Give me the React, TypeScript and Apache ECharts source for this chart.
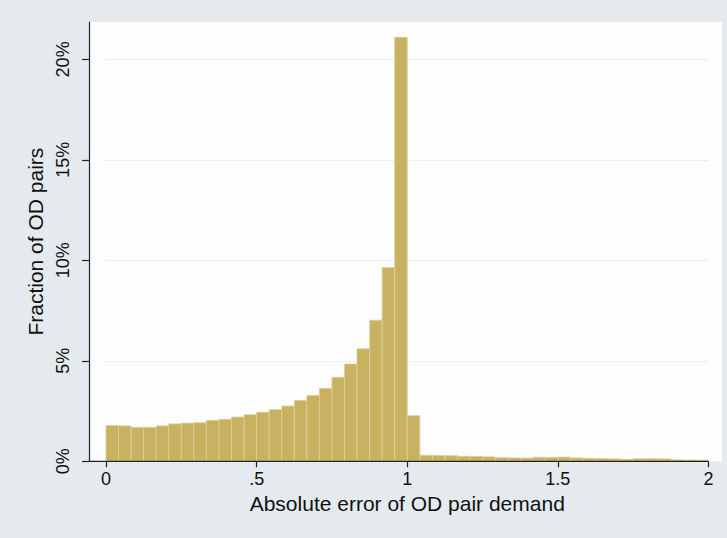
import React, { useEffect, useRef } from "react";
import * as echarts from "echarts";

// Histogram bins: width 1/24 on [0, 2]
const binWidth = 1 / 24;
const fractions = [
  1.78, 1.76, 1.69, 1.69, 1.76, 1.86, 1.9, 1.92, 2.04, 2.09, 2.2, 2.32,
  2.44, 2.57, 2.75, 3.03, 3.28, 3.63, 4.18, 4.84, 5.6, 7.02, 9.64, 21.1,
  2.27, 0.3, 0.29, 0.28, 0.25, 0.24, 0.22, 0.18, 0.17, 0.16, 0.2, 0.19,
  0.21, 0.17, 0.15, 0.14, 0.12, 0.1, 0.13, 0.13, 0.12, 0.07, 0.06, 0.05,
];
const xTicks = [0, 0.5, 1, 1.5, 2];
const xTickLabels = ["0", ".5", "1", "1.5", "2"];
const yTicks = [0, 5, 10, 15, 20];
const yTickLabels = ["0%", "5%", "10%", "15%", "20%"];
const xTitle = "Absolute error of OD pair demand";
const yTitle = "Fraction of OD pairs";

const FONT = "'Liberation Sans', Arial, Helvetica, sans-serif";

export default function App() {
  const ref = useRef<HTMLDivElement>(null);
  useEffect(() => {
    if (!ref.current) return;
    const chart = echarts.init(ref.current, undefined, { renderer: "svg" });
    const data = fractions.map((v, i) => [i * binWidth, (i + 1) * binWidth, v]);
    chart.setOption({
      animation: false,
      backgroundColor: "#e4eaed",
      grid: { left: 106, right: 18.5, top: 22, bottom: 76.7 },
      graphic: [
        {
          type: "rect",
          z: -10,
          silent: true,
          shape: { x: 89, y: 22, width: 633, height: 439.3 },
          style: { fill: "#fdfdfd" },
        },
        {
          type: "line",
          z: 100,
          silent: true,
          shape: { x1: 89, y1: 461.3, x2: 708.5, y2: 461.3 },
          style: { stroke: "#222", lineWidth: 1.2 },
        },
      ],
      xAxis: {
        type: "value",
        min: 0,
        max: 2,
        interval: 0.5,
        axisLine: { show: false, onZero: false },
        axisTick: { show: true, length: 6, lineStyle: { color: "#222", width: 1.2 } },
        splitLine: { show: false },
        axisLabel: {
          margin: 9,
          fontFamily: FONT,
          fontSize: 18,
          color: "#111",
          formatter: (v: number) => {
            const i = xTicks.indexOf(v);
            return i >= 0 ? xTickLabels[i] : "";
          },
        },
        name: xTitle,
        nameLocation: "middle",
        nameGap: 27,
        nameTextStyle: { fontFamily: FONT, fontSize: 21, color: "#111" },
      },
      yAxis: {
        type: "value",
        min: 0,
        max: 21.86,
        offset: 17,
        axisLine: { show: true, onZero: false, lineStyle: { color: "#222", width: 1.2 } },
        axisTick: {
          show: true,
          length: 7,
          customValues: yTicks,
          lineStyle: { color: "#222", width: 1.2 },
        },
        splitLine: { show: true, lineStyle: { color: "#eaeff1", width: 1 } },
        axisLabel: {
          customValues: yTicks,
          rotate: 90,
          margin: 17,
          fontFamily: FONT,
          fontSize: 18,
          color: "#111",
          formatter: (v: number) => {
            const i = yTicks.indexOf(v);
            return i >= 0 ? yTickLabels[i] : "";
          },
        },
        name: yTitle,
        nameLocation: "middle",
        nameGap: 38,
        nameTextStyle: { fontFamily: FONT, fontSize: 21, color: "#111" },
      },
      series: [
        {
          type: "custom",
          encode: { x: [0, 1], y: 2 },
          data,
          renderItem: (params: any, api: any) => {
            const p0 = api.coord([api.value(0), api.value(2)]);
            const p1 = api.coord([api.value(1), 0]);
            return {
              type: "rect",
              shape: { x: p0[0], y: p0[1], width: p1[0] - p0[0], height: p1[1] - p0[1] },
              style: { fill: "#c8b262", stroke: "#dccf98", lineWidth: 0.8 },
            };
          },
        },
      ],
    });
    return () => chart.dispose();
  }, []);
  return (
    <div
      ref={ref}
      style={{ position: "fixed", left: 0, top: 0, width: 727, height: 538 }}
    />
  );
}
